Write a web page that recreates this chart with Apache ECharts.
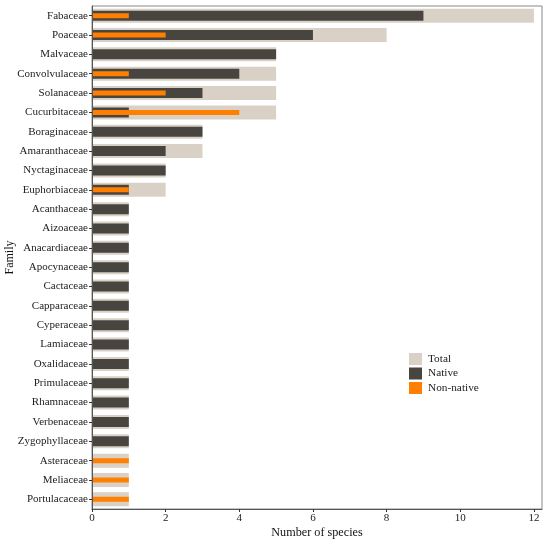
<!DOCTYPE html>
<html>
<head>
<meta charset="utf-8">
<title>Species per family</title>
<style>html, body {margin: 0; padding: 0; background: #fff;}</style>
<script src="https://cdn.jsdelivr.net/npm/echarts@6/dist/echarts.min.js"></script>
</head>
<body>
<div id="main" style="width: 550px; height: 543px;"></div>
<script type="text/javascript">
var families = ['Fabaceae', 'Poaceae', 'Malvaceae', 'Convolvulaceae', 'Solanaceae', 'Cucurbitaceae',
  'Boraginaceae', 'Amaranthaceae', 'Nyctaginaceae', 'Euphorbiaceae', 'Acanthaceae', 'Aizoaceae',
  'Anacardiaceae', 'Apocynaceae', 'Cactaceae', 'Capparaceae', 'Cyperaceae', 'Lamiaceae',
  'Oxalidaceae', 'Primulaceae', 'Rhamnaceae', 'Verbenaceae', 'Zygophyllaceae', 'Asteraceae',
  'Meliaceae', 'Portulacaceae'];
var total     = [12, 8, 5, 5, 5, 5, 3, 3, 2, 2, 1, 1, 1, 1, 1, 1, 1, 1, 1, 1, 1, 1, 1, 1, 1, 1];
var native    = [9, 6, 5, 4, 3, 1, 3, 2, 2, 1, 1, 1, 1, 1, 1, 1, 1, 1, 1, 1, 1, 1, 1, 0, 0, 0];
var nonNative = [1, 2, 0, 1, 2, 4, 0, 0, 0, 1, 0, 0, 0, 0, 0, 0, 0, 0, 0, 0, 0, 0, 0, 1, 1, 1];

var font = 'Liberation Serif';
var chart = echarts.init(document.getElementById('main'));

// one category axis per series so every bar sits centred in its row
function catAxis(visible) {
  return {
    type: 'category',
    data: families,
    inverse: true,
    show: visible,
    z: 5,
    name: visible ? 'Family' : '',
    nameLocation: 'middle',
    nameGap: 76,
    nameMoveOverlap: false,
    nameTextStyle: {fontFamily: font, fontSize: 12, color: '#111'},
    axisLine: {show: true, lineStyle: {color: '#555', width: 1}},
    axisTick: {show: true, alignWithLabel: true, length: 3, lineStyle: {color: '#333'}},
    axisLabel: {fontFamily: font, fontSize: 11, color: '#222', margin: 4},
    splitLine: {show: false}
  };
}

chart.setOption({
  animation: false,
  textStyle: {fontFamily: font},
  grid: {left: 92, right: 8, top: 6, bottom: 34, containLabel: false, outerBoundsMode: 'none',
    show: true, borderColor: '#888', borderWidth: 1},
  legend: {
    orient: 'vertical',
    left: 409,
    top: 353,
    icon: 'rect',
    itemWidth: 13,
    itemHeight: 12,
    itemGap: 2.5,
    padding: 0,
    textStyle: {fontFamily: font, fontSize: 11.3, color: '#222', padding: [0, 0, 0, 1]},
    data: ['Total', 'Native', 'Non-native']
  },
  xAxis: {
    type: 'value',
    min: 0,
    max: 12.22,
    interval: 2,
    z: 5,
    name: 'Number of species',
    nameLocation: 'middle',
    nameGap: 18,
    nameMoveOverlap: false,
    nameTextStyle: {fontFamily: font, fontSize: 12.2, color: '#111'},
    axisLine: {show: true, lineStyle: {color: '#555'}},
    axisTick: {show: true, length: 3, lineStyle: {color: '#333'}},
    axisLabel: {fontFamily: font, fontSize: 11, color: '#222', margin: 4, showMaxLabel: false},
    splitLine: {show: false}
  },
  yAxis: [catAxis(true), catAxis(false), catAxis(false)],
  series: [
    {name: 'Total', type: 'bar', yAxisIndex: 0, data: total, barWidth: 14,
      itemStyle: {color: '#D9D1C5'}},
    {name: 'Native', type: 'bar', yAxisIndex: 1, data: native, barWidth: 10,
      itemStyle: {color: '#48443F'}},
    {name: 'Non-native', type: 'bar', yAxisIndex: 2, data: nonNative, barWidth: 5,
      itemStyle: {color: '#FF7F00'}}
  ]
});
</script>
</body>
</html>
